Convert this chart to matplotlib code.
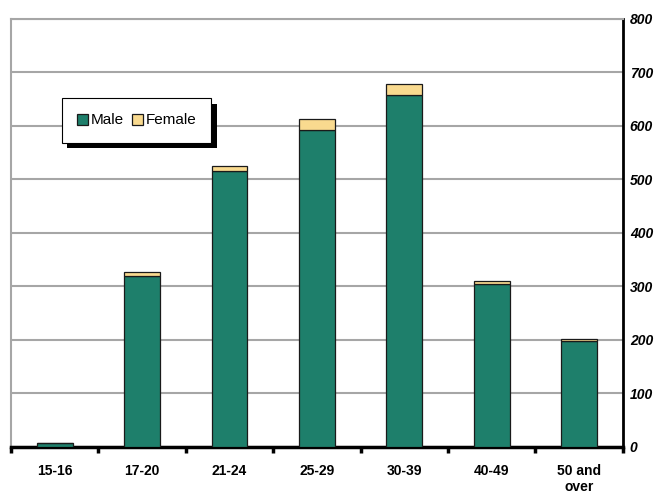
import matplotlib
matplotlib.use('Agg')
import matplotlib.pyplot as plt
import matplotlib.patheffects as pe
import numpy as np

plt.rcParams['font.family'] = ['Liberation Sans', 'DejaVu Sans']

age_groups = ['15-16', '17-20', '21-24', '25-29', '30-39', '40-49', '50 and\nover']
male = [7, 320, 516, 592, 658, 304, 198]
female = [1, 7, 9, 22, 21, 7, 3]
y_ticks = [0, 100, 200, 300, 400, 500, 600, 700, 800]

green = '#1E7F6B'
cream = '#F9DA8F'

fig = plt.figure(figsize=(6.57, 4.96), dpi=100)
ax = fig.add_axes([0.0167, 0.0988, 0.9313, 0.8629])

x = np.arange(len(age_groups))
ax.bar(x, male, width=0.41, color=green, edgecolor='#1a1a1a', linewidth=0.9, label='Male', zorder=3)
ax.bar(x, female, width=0.41, bottom=male, color=cream, edgecolor='#1a1a1a', linewidth=0.9,
       label='Female', zorder=3)

ax.set_xlim(-0.5, len(age_groups) - 0.5)
ax.set_ylim(0, 800)
ax.set_yticks(y_ticks)
ax.yaxis.tick_right()
ax.set_yticklabels([str(v) for v in y_ticks], fontsize=10, fontweight='bold', fontstyle='italic')
ax.tick_params(axis='y', length=0, pad=5)
ax.yaxis.grid(True, color='#A6A6A6', linewidth=1.5, zorder=0)

ax.set_xticks(x)
ax.set_xticklabels(age_groups, fontsize=10, fontweight='bold')
ax.tick_params(axis='x', which='major', length=0, pad=12)
ax.set_xticks(np.arange(len(age_groups) + 1) - 0.5, minor=True)
ax.tick_params(axis='x', which='minor', length=4, width=2.5, color='black', direction='out')

for side in ['left', 'top']:
    ax.spines[side].set_color('#A6A6A6')
    ax.spines[side].set_linewidth(1.5)
ax.spines['bottom'].set_color('black')
ax.spines['bottom'].set_linewidth(2.5)
ax.spines['right'].set_color('black')
ax.spines['right'].set_linewidth(2)

leg = ax.legend(loc='upper left', bbox_to_anchor=(0.083, 0.815), borderaxespad=0,
                ncol=2, fontsize=11, frameon=True, fancybox=False, framealpha=1,
                handlelength=0.75, handleheight=0.75, handletextpad=0.15, columnspacing=0.5,
                borderpad=1.0)
frame = leg.get_frame()
frame.set_edgecolor('black')
frame.set_linewidth(0.8)
frame.set_path_effects([pe.withSimplePatchShadow(offset=(4, -4), shadow_rgbFace='black', alpha=1)])
leg.set_zorder(5)

fig.savefig('out.png', dpi=100)
